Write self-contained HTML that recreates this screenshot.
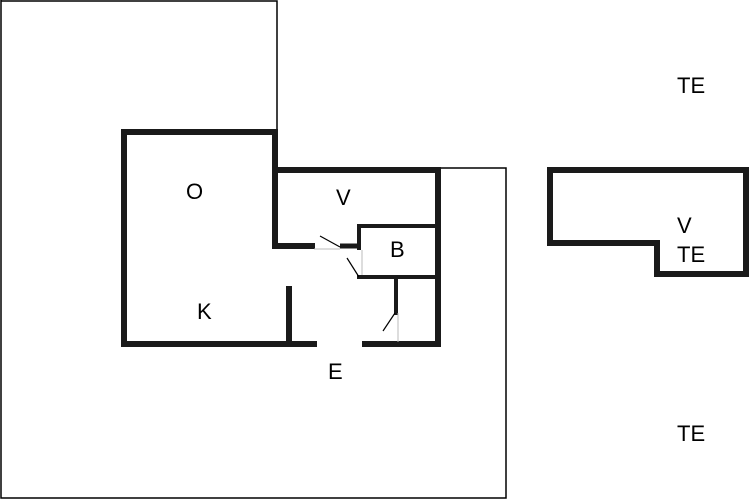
<!DOCTYPE html>
<html><head><style>body{margin:0;background:#fff}svg{display:block}</style></head><body>
<svg width="750" height="500" xmlns="http://www.w3.org/2000/svg" font-family="Liberation Sans, sans-serif" font-size="22">
<g fill="none" stroke="#000" stroke-width="1.5">
<polyline points="1,0 1,498 506,498 506,168 441,168"/>
<polyline points="1,1 277,1 277,130"/>
</g>
<g fill="none" stroke="#1a1a1a" stroke-width="6" stroke-linejoin="miter" stroke-linecap="square">
<polyline points="314,344 124,344 124,132 275,132 275,246 312,246"/>
<polyline points="275,170 438,170 438,344 365,344"/>
<line x1="289" y1="289" x2="289" y2="342"/>
<path d="M550,170 H746 V274 H657 V243 H550 Z"/>
</g>
<g fill="none" stroke="#1a1a1a" stroke-width="5">
<line x1="340" y1="246" x2="361" y2="246"/>
</g>
<g fill="none" stroke="#1a1a1a" stroke-width="4" stroke-linecap="square">
<polyline points="359,248 359,226 436,226"/>
<line x1="359" y1="277" x2="436" y2="277"/>
<line x1="396" y1="279" x2="396" y2="313"/>
</g>
<g stroke="#000" stroke-width="1.2">
<line x1="320" y1="236" x2="340" y2="247"/>
<line x1="347" y1="258" x2="359" y2="277"/>
<line x1="395" y1="313" x2="383" y2="331"/>
</g>
<g stroke="#bbb" stroke-width="1">
<line x1="314" y1="249" x2="340" y2="249"/>
<line x1="362" y1="250" x2="362" y2="275"/>
<line x1="398" y1="313" x2="398" y2="342"/>
</g>
<g fill="#000">
<text x="677" y="93">TE</text>
<text x="186" y="199">O</text>
<text x="336" y="205">V</text>
<text x="390" y="257">B</text>
<text x="197" y="319">K</text>
<text x="328" y="379">E</text>
<text x="677" y="233">V</text>
<text x="677" y="262">TE</text>
<text x="677" y="441">TE</text>
</g>
</svg>
</body></html>
